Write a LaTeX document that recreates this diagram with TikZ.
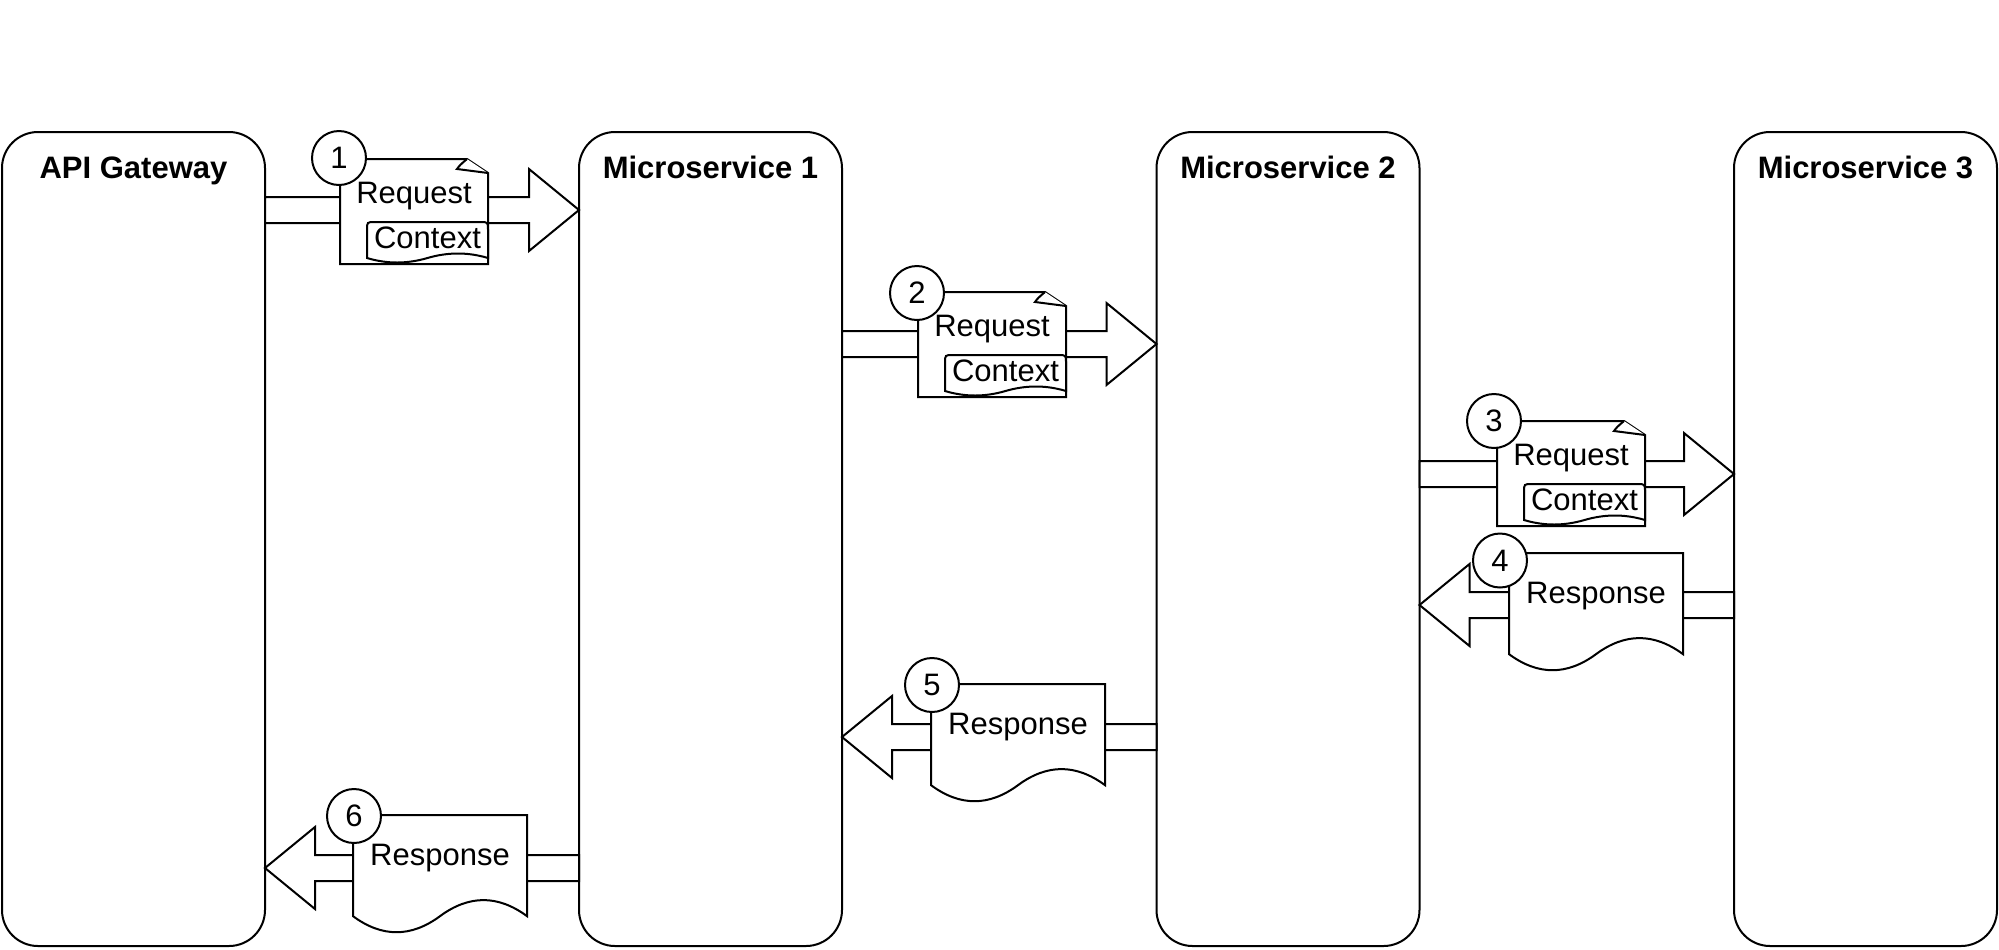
\documentclass[tikz,border=0pt]{standalone}
\usepackage{fontspec}
\setmainfont{Liberation Sans}
\usetikzlibrary{calc}

\begin{document}
\begin{tikzpicture}[x=0.5pt, y=-0.5pt,
    service/.style={draw, line width=1pt, rounded corners=18pt, minimum width=131.5pt,
      minimum height=407pt, inner sep=0pt, outer sep=0pt},
    title/.style={font=\fontsize{15.5}{18}\selectfont\bfseries, anchor=base, inner sep=0pt},
    lbl/.style={font=\fontsize{15.5}{18}\selectfont, anchor=base, inner sep=0pt},
    num/.style={draw, circle, fill=white, line width=1pt, minimum size=27pt, inner sep=0pt,
      font=\fontsize{15.5}{18}\selectfont},
    docline/.style={draw, fill=white, line width=1pt},
    fat/.style={docline, to path={let \p1=(\tikztostart), \p2=(\tikztotarget),
      \n1={ifthenelse(\x2>\x1,-25,25)} in
      (\x1,\y1-6.5pt) -- (\x2+\n1*1pt,\y1-6.5pt) -- (\x2+\n1*1pt,\y1-20.5pt) -- (\x2,\y2)
      -- (\x2+\n1*1pt,\y1+20.5pt) -- (\x2+\n1*1pt,\y1+6.5pt) -- (\x1,\y1+6.5pt) -- cycle}},
    pics/reqdoc/.style={code={
      \draw[docline] (0,0) -- (127,0) -- (148,14) -- (148,105) -- (0,105) -- cycle;
      \draw[docline] (127,0) .. controls (120,6) .. (117,10) -- (148,14);
      \draw[docline] (27,99) -- (27,71) .. controls (27,63) .. (35,63) -- (140,63)
        .. controls (148,63) .. (148,71) -- (148,99)
        .. controls (128,93) and (108,93) .. (87.5,99)
        .. controls (67,105) and (47,105) .. (27,99) -- cycle;
      \node[lbl] (-req) at (74,44.5) {Request};
      \node[lbl] (-ctx) at (87.5,89) {Context};
    }},
    pics/resdoc/.style={code={
      \draw[docline] (0,0) -- (174,0) -- (174,101.15)
        .. controls (145,79.73) and (116,79.73) .. (87,101.15)
        .. controls (58,122.57) and (29,122.57) .. (0,101.15) -- cycle;
      \node[lbl] (-res) at (87,50) {Response};
    }}
  ]
  \useasboundingbox (0,0) rectangle (1999,949);

  % Services
  \node[service] (gw)  at (133.5,539) {};
  \node[service] (ms1) at (710.5,539) {};
  \node[service] (ms2) at (1288,539) {};
  \node[service] (ms3) at (1865.5,539) {};
  \node[title] (gw-t)  at ([yshift=-23pt]gw.north)  {API Gateway};
  \node[title] (ms1-t) at ([yshift=-23pt]ms1.north) {Microservice 1};
  \node[title] (ms2-t) at ([yshift=-23pt]ms2.north) {Microservice 2};
  \node[title] (ms3-t) at ([yshift=-23pt]ms3.north) {Microservice 3};

  % Requests
  \coordinate (q1) at (gw.east |- 0,210);
  \coordinate (q2) at (ms1.east |- 0,344);
  \coordinate (q3) at (ms2.east |- 0,474);
  \draw[fat] (q1) to (ms1.west |- q1);
  \draw[fat] (q2) to (ms2.west |- q2);
  \draw[fat] (q3) to (ms3.west |- q3);
  \pic (d1) at (340,159) {reqdoc};
  \pic (d2) at (918,292) {reqdoc};
  \pic (d3) at (1497,421) {reqdoc};
  \node[num] (n1) at (339,158) {1};
  \node[num] (n2) at (917,293) {2};
  \node[num] (n3) at (1494,421) {3};

  % Responses
  \coordinate (r4) at (ms3.west |- 0,605);
  \coordinate (r5) at (ms2.west |- 0,737);
  \coordinate (r6) at (ms1.west |- 0,868);
  \draw[fat] (r4) to (ms2.east |- r4);
  \draw[fat] (r5) to (ms1.east |- r5);
  \draw[fat] (r6) to (gw.east |- r6);
  \pic (d4) at (1509,553) {resdoc};
  \pic (d5) at (931,684) {resdoc};
  \pic (d6) at (353,815) {resdoc};
  \node[num] (n4) at (1500,560.5) {4};
  \node[num] (n5) at (932,685) {5};
  \node[num] (n6) at (354,816) {6};
\end{tikzpicture}
\end{document}
